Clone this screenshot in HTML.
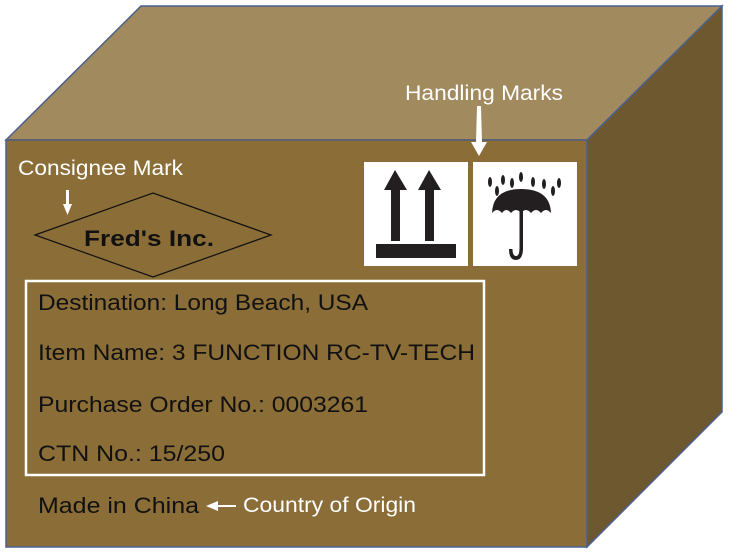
<!DOCTYPE html>
<html><head><meta charset="utf-8"><style>
html,body{margin:0;padding:0;background:#fff;width:730px;height:554px;overflow:hidden}
svg{display:block}
text{font-family:"Liberation Sans",sans-serif}
</style></head><body>
<svg width="730" height="554" viewBox="0 0 730 554" xmlns="http://www.w3.org/2000/svg">
<polygon points="6,140 141,6 722,6 587,140" fill="#a08a5e" stroke="#4a6090" stroke-width="1.5"/>
<polygon points="587,140 722,6 722,412 587,547" fill="#6e5830" stroke="#4a6090" stroke-width="1.5"/>
<rect x="6" y="140" width="581" height="407" fill="#8a6d37" stroke="#4a6090" stroke-width="1.5"/>
<line x1="6" y1="140" x2="587" y2="140" stroke="#5a6070" stroke-width="1.5"/>

<text x="405" y="100" font-size="21" fill="#fff" textLength="158" lengthAdjust="spacingAndGlyphs">Handling Marks</text>
<polygon points="477,106 481,106 482,142 487,142 479,156 471,142 476,142" fill="#fff"/>

<rect x="364" y="162" width="104" height="104" fill="#fff"/>
<rect x="473" y="162" width="104" height="104" fill="#fff"/>
<g fill="#231f20">
<rect x="376" y="244" width="80" height="14"/>
<rect x="391" y="188" width="9" height="53"/>
<polygon points="384,190 395,170 407,190"/>
<rect x="425" y="188" width="9" height="53"/>
<polygon points="418,190 429,170 441,190"/>
<path d="M492,213 Q493,189 521,189 Q550,189 551,213 Q546,207 541,213 Q536,207 531,213 Q526,207 521,213 Q516,207 511,213 Q506,207 502,213 Q497,207 492,213 Z"/>
<rect x="519.5" y="189" width="3.5" height="60"/>
<path d="M509,249 Q509,260 516,260 Q523,260 523,248 L519.5,248 Q519.5,256 516,256 Q512.5,256 512.5,249 Z"/>
<g>
<ellipse cx="490" cy="182" rx="2" ry="5"/><ellipse cx="497" cy="191" rx="2" ry="5"/>
<ellipse cx="503" cy="180" rx="2" ry="5"/><ellipse cx="512" cy="183" rx="2" ry="5"/>
<ellipse cx="521" cy="177" rx="2" ry="5"/><ellipse cx="533" cy="182" rx="2" ry="5"/>
<ellipse cx="544" cy="184" rx="2" ry="5"/><ellipse cx="553" cy="191" rx="2" ry="5"/>
<ellipse cx="559" cy="183" rx="2" ry="5"/>
</g>
</g>

<text x="18" y="175" font-size="21" fill="#fff" textLength="165" lengthAdjust="spacingAndGlyphs">Consignee Mark</text>
<polygon points="66,190 69,190 69,204 72,204 67.5,215 63,204 66,204" fill="#fff"/>
<polygon points="35,235 153,193 271,235 153,277" fill="none" stroke="#111" stroke-width="1.2"/>
<text x="84" y="246" font-size="22" font-weight="bold" fill="#111" textLength="130" lengthAdjust="spacingAndGlyphs">Fred's Inc.</text>

<rect x="26" y="281" width="458" height="194" fill="none" stroke="#fff" stroke-width="2.5"/>
<g font-size="22" fill="#111">
<text x="38" y="310" textLength="330" lengthAdjust="spacingAndGlyphs">Destination: Long Beach, USA</text>
<text x="38" y="360" textLength="437" lengthAdjust="spacingAndGlyphs">Item Name: 3 FUNCTION RC-TV-TECH</text>
<text x="38" y="412" textLength="330" lengthAdjust="spacingAndGlyphs">Purchase Order No.: 0003261</text>
<text x="38" y="461" textLength="187" lengthAdjust="spacingAndGlyphs">CTN No.: 15/250</text>
<text x="38" y="513" textLength="161" lengthAdjust="spacingAndGlyphs">Made in China</text>
</g>
<polygon points="206,506 218,501 218,505 236,505 236,507 218,507 218,511" fill="#fff"/>
<text x="243" y="512" font-size="21" fill="#fff" textLength="173" lengthAdjust="spacingAndGlyphs">Country of Origin</text>
</svg>
</body></html>
